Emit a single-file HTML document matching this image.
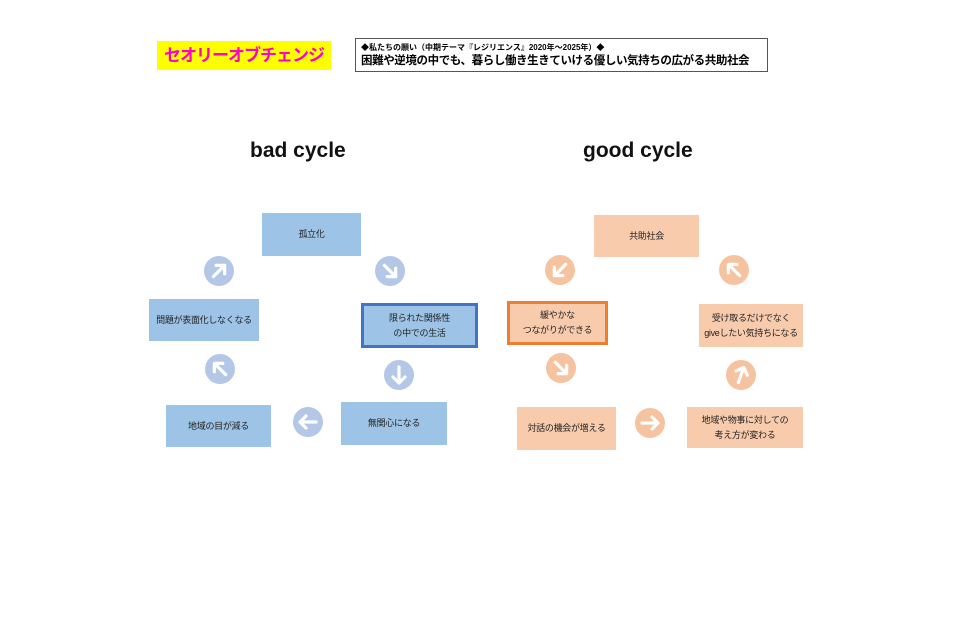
<!DOCTYPE html>
<html><head><meta charset="utf-8"><style>
body{margin:0;width:960px;height:639px;background:#fff;position:relative;overflow:hidden;font-family:"Liberation Sans","Noto Sans CJK JP",sans-serif;}
.a{position:absolute;box-sizing:border-box;display:flex;align-items:center;justify-content:center;text-align:center;font-size:9px;line-height:15px;color:#222;white-space:nowrap;letter-spacing:-0.3px;}
.b{background:#9dc3e6;}
.o{background:#f8cbad;}
.c{position:absolute;width:30px;height:30px;}
.t{position:absolute;font-weight:bold;font-size:21px;color:#111;}
</style></head><body>
<div class="a" style="left:157px;top:41px;width:174px;height:29px;background:#ffff00;color:#ff00cc;font-weight:bold;font-size:17px;letter-spacing:-1px;">セオリーオブチェンジ</div>
<div style="position:absolute;left:355px;top:38px;width:413px;height:34px;box-sizing:border-box;border:1px solid #555;padding:3px 0 0 5px;white-space:nowrap;">
<div style="font-size:8px;font-weight:bold;line-height:11px;">◆私たちの願い（中期テーマ『レジリエンス』2020年～2025年）◆</div>
<div style="font-size:11.5px;font-weight:bold;line-height:16px;letter-spacing:-0.4px;">困難や逆境の中でも、暮らし働き生きていける優しい気持ちの広がる共助社会</div>
</div>
<div class="t" style="left:250px;top:139px;">bad cycle</div>
<div class="t" style="left:583px;top:139px;">good cycle</div>

<svg width="0" height="0" style="position:absolute"><defs>
<g id="ar"><path d="M15 23 V8 M9 13 L15 7 L21 13" stroke="#fff" stroke-width="3.2" fill="none" stroke-linecap="round" stroke-linejoin="round"/></g>
</defs></svg>

<div class="a b" style="left:262px;top:213px;width:99px;height:43px;">孤立化</div>
<div class="a b" style="left:361px;top:303px;width:117px;height:45px;border:3px solid #4472c4;">限られた関係性<br>の中での生活</div>
<div class="a b" style="left:341px;top:402px;width:106px;height:43px;">無関心になる</div>
<div class="a b" style="left:166px;top:405px;width:105px;height:42px;">地域の目が減る</div>
<div class="a b" style="left:149px;top:299px;width:110px;height:42px;">問題が表面化しなくなる</div>

<svg class="c" style="left:375px;top:256px;" viewBox="0 0 30 30"><circle cx="15" cy="15" r="15" fill="#b4c7e7"/><use href="#ar" transform="rotate(135 15 15)"/></svg>
<svg class="c" style="left:384px;top:360px;" viewBox="0 0 30 30"><circle cx="15" cy="15" r="15" fill="#b4c7e7"/><use href="#ar" transform="rotate(180 15 15)"/></svg>
<svg class="c" style="left:293px;top:407px;" viewBox="0 0 30 30"><circle cx="15" cy="15" r="15" fill="#b4c7e7"/><use href="#ar" transform="rotate(-90 15 15)"/></svg>
<svg class="c" style="left:205px;top:354px;" viewBox="0 0 30 30"><circle cx="15" cy="15" r="15" fill="#b4c7e7"/><use href="#ar" transform="rotate(-45 15 15)"/></svg>
<svg class="c" style="left:204px;top:256px;" viewBox="0 0 30 30"><circle cx="15" cy="15" r="15" fill="#b4c7e7"/><use href="#ar" transform="rotate(45 15 15)"/></svg>

<div class="a o" style="left:594px;top:215px;width:105px;height:42px;">共助社会</div>
<div class="a o" style="left:507px;top:301px;width:101px;height:44px;border:3px solid #ed7d31;">緩やかな<br>つながりができる</div>
<div class="a o" style="left:517px;top:407px;width:99px;height:43px;">対話の機会が増える</div>
<div class="a o" style="left:687px;top:407px;width:116px;height:41px;">地域や物事に対しての<br>考え方が変わる</div>
<div class="a o" style="left:699px;top:304px;width:104px;height:43px;">受け取るだけでなく<br>giveしたい気持ちになる</div>

<svg class="c" style="left:545px;top:255px;" viewBox="0 0 30 30"><circle cx="15" cy="15" r="15" fill="#f5c3a0"/><use href="#ar" transform="rotate(-135 15 15)"/></svg>
<svg class="c" style="left:546px;top:353px;" viewBox="0 0 30 30"><circle cx="15" cy="15" r="15" fill="#f5c3a0"/><use href="#ar" transform="rotate(135 15 15)"/></svg>
<svg class="c" style="left:635px;top:408px;" viewBox="0 0 30 30"><circle cx="15" cy="15" r="15" fill="#f5c3a0"/><use href="#ar" transform="rotate(90 15 15)"/></svg>
<svg class="c" style="left:726px;top:360px;" viewBox="0 0 30 30"><circle cx="15" cy="15" r="15" fill="#f5c3a0"/><use href="#ar" transform="rotate(20 15 15)"/></svg>
<svg class="c" style="left:719px;top:255px;" viewBox="0 0 30 30"><circle cx="15" cy="15" r="15" fill="#f5c3a0"/><use href="#ar" transform="rotate(-45 15 15)"/></svg>
</body></html>
